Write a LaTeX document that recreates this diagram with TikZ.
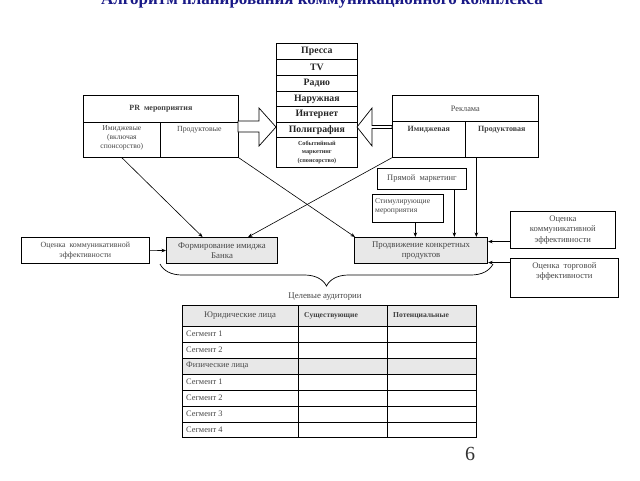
\documentclass[tikz,border=0pt]{standalone}
\usepackage{fontspec}
\setmainfont{Liberation Serif}
\usetikzlibrary{calc,decorations.pathreplacing,arrows.meta}
\definecolor{txt}{gray}{0.28}
\definecolor{boxfill}{gray}{0.91}
\definecolor{titleblue}{RGB}{25,25,135}
\newcommand{\fsz}[2]{\fontsize{#1}{#2}\selectfont}
\newcommand{\cellbox}[7][]{\node[cell,#1,minimum width={(#4-#2)*1pt},minimum height={(#5-#3)*1pt}] (#6) at (#2,#3) {#7};}
\begin{document}
\begin{tikzpicture}[x=1pt,y=-1pt,
  cell/.style={draw=black, line width=0.7pt, inner sep=0pt, anchor=north west, text=txt, align=center},
  media/.style={font=\bfseries\fsz{9.8}{11}, text=black!85},
  mediasmall/.style={font=\bfseries\fsz{6.2}{8.2}, text=black!80},
  lbl/.style={font=\fsz{8.4}{9.8}, text=txt, inner sep=0pt, align=center},
  lblb/.style={font=\bfseries\fsz{8}{9.5}, text=black!75, inner sep=0pt, align=center},
  grayb/.style={fill=boxfill, line width=1.1pt, font=\fsz{8.8}{10.6}},
  arr/.style={-{Stealth[length=4.5pt,width=3.5pt]}, line width=0.6pt, black},
  blk/.style={draw=black, line width=0.7pt, fill=white},
  tbl/.style={line width=1pt, black}]
\clip (0,0) rectangle (640,480);
\fill[white] (0,0) rectangle (640,480);

% title (partly cut off at top, as in the reference)
\node[font=\bfseries\fsz{17}{19}, text=titleblue, anchor=base, inner sep=0pt] (title) at (322,4) {Алгоритм планирования коммуникационного комплекса};

% media column
\cellbox[media]{276}{43}{357}{59}{m1}{Пресса}
\cellbox[media]{276}{59}{357}{75}{m2}{TV}
\cellbox[media]{276}{75}{357}{91}{m3}{Радио}
\cellbox[media]{276}{91}{357}{106}{m4}{Наружная}
\cellbox[media]{276}{106}{357}{122}{m5}{Интернет}
\cellbox[media]{276}{122}{357}{137}{m6}{Полиграфия}
\cellbox[mediasmall]{276}{137}{357}{167}{m7}{Событийный\\маркетинг\\(спонсорство)}

% PR box
\cellbox{83}{95}{238}{122}{prT}{}
\cellbox{83}{122}{160}{157}{prA}{}
\cellbox{160}{122}{238}{157}{prB}{}
\node[lblb, anchor=center] (prTt) at (prT.center) {PR\ \ мероприятия};
\node[lbl, anchor=north, font=\fsz{7.6}{9.4}] (prAt) at ([yshift=-3pt]prA.north) {Имиджевые\\(включая\\спонсорство)};
\node[lbl, anchor=north, font=\fsz{7.8}{9.4}] (prBt) at ([yshift=-4pt]prB.north) {Продуктовые};

% Reklama box
\cellbox{392}{95}{538}{121}{rkT}{}
\cellbox{392}{121}{465}{157}{rkA}{}
\cellbox{465}{121}{538}{157}{rkB}{}
\node[lbl, anchor=center, font=\fsz{8.3}{9.5}] (rkTt) at (rkT.center) {Реклама};
\node[lblb, anchor=north] (rkAt) at ([yshift=-5pt]rkA.north) {Имиджевая};
\node[lblb, anchor=north] (rkBt) at ([yshift=-5pt]rkB.north) {Продуктовая};

% block arrows
\draw[blk] (238,121) -- (259,121) -- (259,108) -- (276,127) -- (259,146) -- (259,132) -- (238,132) -- cycle;
\draw[blk] (392,125.5) -- (372,125.5) -- (372,108) -- (357,127) -- (372,146) -- (372,128.5) -- (392,128.5) -- cycle;

% other boxes
\cellbox{377}{168}{466}{189}{pm}{\fsz{8.4}{9.8}Прямой\ \ маркетинг}
\cellbox{372}{194}{443}{222}{st}{}
\node[lbl, anchor=north west, align=left, font=\fsz{7.6}{9.2}] (stt) at ([xshift=3pt,yshift=-4pt]st.north west) {Стимулирующие\\мероприятия};
\cellbox[grayb]{166}{237}{277}{263}{form}{Формирование имиджа\\Банка}
\cellbox[grayb]{354}{237}{487}{263}{prod}{Продвижение конкретных\\продуктов}
\cellbox[font=\fsz{7.9}{9.6}]{21}{237}{149}{263}{ocL}{Оценка\ \ коммуникативной\\эффективности}
\cellbox[font=\fsz{8.6}{10.6}]{510}{211}{615}{248}{ocR}{Оценка\\коммуникативной\\эффективности}
\cellbox{510}{258}{618}{297}{ot}{}
\node[lbl, anchor=north, font=\fsz{8.6}{10.6}] (ott) at ([yshift=-4pt]ot.north) {Оценка\ \ торговой\\эффективности};

% connectors
\draw[arr] (prA.south) -- ([xshift=-19.5pt]form.north);
\draw[arr] (prB.south east) -- ([xshift=1pt]prod.north west);
\draw[arr] (rkA.south west) -- ([xshift=-30pt]form.north east);
\coordinate (rkBout) at ([xshift=-25.5pt]rkB.south);
\draw[arr] (rkBout) -- (rkBout |- prod.north);
\coordinate (pmOut) at ([xshift=32.5pt]pm.south);
\draw[arr] (pmOut) -- (pmOut |- prod.north);
\coordinate (stOut) at ([xshift=7.5pt]st.south);
\draw[arr] (stOut) -- (stOut |- prod.north);
\coordinate (ocRin) at ([yshift=9pt]prod.east);
\draw[arr] (ocRin -| ocR.west) -- (ocRin);
\coordinate (otIn) at ([yshift=1.5pt]prod.south east);
\draw[arr] (otIn -| ot.west) -- (otIn);
\draw[arr] (ocL.east) -- (form.west);

% brace
\coordinate (brL) at (160,264);
\coordinate (brR) at (493,264);
\draw[line width=0.7pt, decorate, decoration={brace, mirror, amplitude=22pt}] (brL) -- (brR);
\node[lbl, font=\fsz{8.8}{10}] (aud) at (325,297) {Целевые аудитории};

% table
\fill[boxfill] (182,305) rectangle (476,326);
\fill[boxfill] (182,358) rectangle (476,374);
\foreach \yy in {326,342,358,374,390,406,422} \draw[tbl] (182,\yy) -- (476,\yy);
\draw[tbl] (298,305) -- (298,437);
\draw[tbl] (387,305) -- (387,437);
\draw[tbl] (182,305) rectangle (476,437);
\node[lbl, font=\fsz{8.7}{10}] (th1) at (240,315.5) {Юридические лица};
\node[lblb, anchor=west, font=\bfseries\fsz{7.6}{9}] (th2) at (304,315.5) {Существующие};
\node[lblb, anchor=west, font=\bfseries\fsz{7.6}{9}] (th3) at (393,315.5) {Потенциальные};
\node[lbl, anchor=west] (r1) at (186,334) {Сегмент 1};
\node[lbl, anchor=west] (r2) at (186,350) {Сегмент 2};
\node[lbl, anchor=west] (r3) at (186,366) {Физические лица};
\node[lbl, anchor=west] (r4) at (186,382) {Сегмент 1};
\node[lbl, anchor=west] (r5) at (186,398) {Сегмент 2};
\node[lbl, anchor=west] (r6) at (186,414) {Сегмент 3};
\node[lbl, anchor=west] (r7) at (186,429.5) {Сегмент 4};

% page number
\node[font=\fsz{20}{22}, text=black!80, anchor=base, inner sep=0pt] (pg) at (470,460) {6};
\end{tikzpicture}
\end{document}
